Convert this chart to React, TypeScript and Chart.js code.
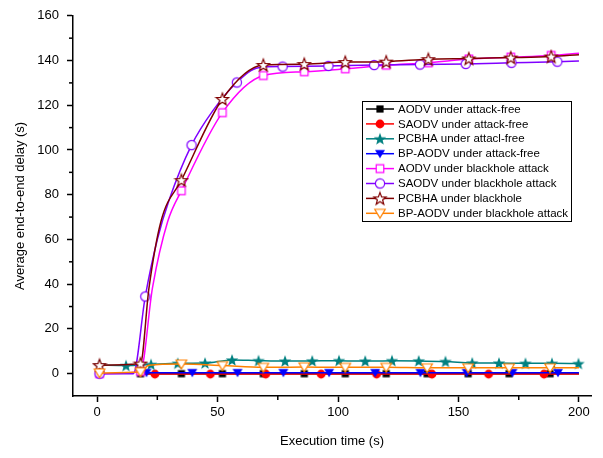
import React, { useEffect, useRef } from 'react';
import { Chart, registerables } from 'chart.js';
Chart.register(...registerables);

const FONT = '"Liberation Sans", Arial, Helvetica, sans-serif';

const seriesLabels = [
  'AODV under attack-free',
  'SAODV under attack-free',
  'PCBHA under attacl-free',
  'BP-AODV under attack-free',
  'AODV under blackhole attack',
  'SAODV under blackhole attack',
  'PCBHA under blackhole',
  'BP-AODV under blackhole attack',
];

// AODV under attack-free (black squares)
const aodvFreeX = [18, 35, 52, 69, 86, 103, 120, 137, 154, 171, 188, 200];
const aodvFreeY = [0, 0, 0, 0, 0, 0, 0, 0, 0, 0, 0, 0];
const aodvFreeM = [1, 1, 1, 1, 1, 1, 1, 1, 1, 1, 1, 0];

// SAODV under attack-free (red circles)
const saodvFreeX = [18, 24, 47, 70, 93, 116, 139, 162.5, 185.5, 200];
const saodvFreeY = [-0.2, -0.2, -0.2, -0.2, -0.2, -0.2, -0.2, -0.2, -0.2, -0.2];
const saodvFreeM = [0, 1, 1, 1, 1, 1, 1, 1, 1, 0];

// PCBHA under attack-free (teal stars)
const pcbhaFreeX = [1, 12, 22.4, 33.5, 44.8, 56, 67, 78, 89.3, 100.4, 111.3, 122.4, 133.5, 144.6, 155.7, 166.8, 177.8, 188.8, 199.8];
const pcbhaFreeY = [3.8, 3.6, 4.1, 4.6, 4.7, 6.1, 5.8, 5.6, 5.7, 5.8, 5.6, 5.8, 5.7, 5.4, 4.8, 4.7, 4.6, 4.6, 4.5];
const pcbhaFreeM = [1, 1, 1, 1, 1, 1, 1, 1, 1, 1, 1, 1, 1, 1, 1, 1, 1, 1, 1];

// BP-AODV under attack-free (blue down triangles)
const bpFreeX = [18, 20.5, 39.5, 58.3, 77.3, 96.3, 115.4, 134.2, 153.4, 172.4, 191.3, 200];
const bpFreeY = [0.4, 0.4, 0.4, 0.4, 0.4, 0.4, 0.4, 0.4, 0.4, 0.4, 0.4, 0.4];
const bpFreeM = [0, 1, 1, 1, 1, 1, 1, 1, 1, 1, 1, 0];

// AODV under blackhole attack (magenta open squares)
const aodvBhX = [1, 18, 23, 29.3, 35, 52, 69, 86, 103, 120, 137.5, 154.3, 171.7, 188.5, 200];
const aodvBhY = [0, 1, 38.5, 68, 81.8, 116.7, 133.3, 135, 136.3, 137.9, 139, 140.7, 141.5, 142.3, 143.3];
const aodvBhM = [1, 1, 0, 0, 1, 1, 1, 1, 1, 1, 1, 1, 1, 1, 0];

// SAODV under blackhole attack (violet open circles)
const saodvBhX = [1, 15, 20, 25, 30, 39.2, 48, 58, 67, 77, 96, 115, 134, 153, 172, 191, 200];
const saodvBhY = [0, 0, 34.5, 60, 78, 102.2, 117.5, 130.2, 136.8, 137.3, 137.6, 138, 138.2, 138.5, 139, 139.5, 139.8];
const saodvBhM = [1, 0, 1, 0, 0, 1, 0, 1, 0, 1, 1, 1, 1, 1, 1, 1, 0];

// PCBHA under blackhole (dark red open stars)
const pcbhaBhX = [1, 18, 21.5, 26.5, 35, 52, 69, 86, 103, 120, 137.5, 154.3, 171.7, 188.5, 200];
const pcbhaBhY = [3.8, 4.5, 38, 68, 86.5, 122.8, 138, 138.4, 139.3, 139.5, 140.6, 140.9, 141.3, 141.8, 142.6];
const pcbhaBhM = [1, 1, 0, 0, 1, 1, 1, 1, 1, 1, 1, 1, 1, 1, 0];

// BP-AODV under blackhole attack (orange open down triangles)
const bpBhX = [1, 18, 21.5, 35, 52, 69, 86, 103, 120, 137, 154, 171, 188, 200];
const bpBhY = [0.3, 0.8, 3.8, 4.3, 3.6, 2.8, 3.0, 2.8, 2.8, 2.6, 2.6, 2.6, 2.6, 2.6];
const bpBhM = [1, 1, 0, 1, 1, 1, 1, 1, 1, 1, 1, 1, 1, 0];

const xTicks = [0, 50, 100, 150, 200];
const xMinorTicks = [25, 75, 125, 175];
const yTicks = [0, 20, 40, 60, 80, 100, 120, 140, 160];
const yMinorTicks = [10, 30, 50, 70, 90, 110, 130, 150];

function makeMarker(kind: string, fill: string, stroke: string, lw: number, scale: number): HTMLCanvasElement {
  const S = 16;
  const c = document.createElement('canvas');
  c.width = S;
  c.height = S;
  const g = c.getContext('2d') as CanvasRenderingContext2D;
  const cx = S / 2;
  const cy = S / 2;
  g.beginPath();
  if (kind === 'square') {
    const h = 3.6 * scale;
    g.rect(cx - h, cy - h, 2 * h, 2 * h);
  } else if (kind === 'circle') {
    g.arc(cx, cy, 4.2 * scale, 0, Math.PI * 2);
  } else if (kind === 'star') {
    const ro = 6.2 * scale;
    const ri = 2.6 * scale;
    for (let k = 0; k < 10; k++) {
      const r = k % 2 === 0 ? ro : ri;
      const a = -Math.PI / 2 + (k * Math.PI) / 5;
      const px = cx + r * Math.cos(a);
      const py = cy + 0.6 + r * Math.sin(a);
      if (k === 0) g.moveTo(px, py);
      else g.lineTo(px, py);
    }
    g.closePath();
  } else if (kind === 'tri') {
    g.moveTo(cx - 5 * scale, cy - 3.8 * scale);
    g.lineTo(cx + 5 * scale, cy - 3.8 * scale);
    g.lineTo(cx, cy + 4.6 * scale);
    g.closePath();
  }
  g.fillStyle = fill;
  g.fill();
  if (lw > 0) {
    g.strokeStyle = stroke;
    g.lineWidth = lw;
    g.stroke();
  }
  return c;
}

const minorTicksPlugin = {
  id: 'minorTicks',
  afterDraw(chart: any) {
    const { x, y } = chart.scales;
    const ctx = chart.ctx;
    ctx.save();
    ctx.strokeStyle = '#000';
    ctx.lineWidth = 1.5;
    xMinorTicks.forEach((v) => {
      const px = x.getPixelForValue(v);
      ctx.beginPath();
      ctx.moveTo(px, x.top);
      ctx.lineTo(px, x.top + 4);
      ctx.stroke();
    });
    yMinorTicks.forEach((v) => {
      const py = y.getPixelForValue(v);
      ctx.beginPath();
      ctx.moveTo(y.right, py);
      ctx.lineTo(y.right - 4, py);
      ctx.stroke();
    });
    ctx.restore();
  },
};

const boxLegendPlugin = {
  id: 'boxLegend',
  afterDatasetsDraw(chart: any) {
    const ctx = chart.ctx;
    const bx = 362;
    const by = 101;
    const bw = 209;
    const bh = 120;
    ctx.save();
    ctx.fillStyle = '#fff';
    ctx.fillRect(bx, by, bw, bh);
    ctx.strokeStyle = '#000';
    ctx.lineWidth = 1;
    ctx.strokeRect(bx + 0.5, by + 0.5, bw, bh);
    ctx.font = `11.5px ${FONT}`;
    ctx.textBaseline = 'middle';
    ctx.textAlign = 'left';
    chart.data.datasets.forEach((d: any, i: number) => {
      const yy = by + 8 + i * 14.9;
      ctx.strokeStyle = d.borderColor;
      ctx.lineWidth = 1.5;
      ctx.beginPath();
      ctx.moveTo(bx + 4, yy);
      ctx.lineTo(bx + 32, yy);
      ctx.stroke();
      const img = d.pointStyle as HTMLCanvasElement;
      ctx.drawImage(img, bx + 18 - img.width / 2, yy - img.height / 2);
      ctx.fillStyle = '#000';
      ctx.fillText(d.label, bx + 36, yy + 0.5);
    });
    ctx.restore();
  },
};

export default function App() {
  const ref = useRef<HTMLCanvasElement | null>(null);

  useEffect(() => {
    if (!ref.current) return;
    const markers = [
      makeMarker('square', '#000000', '#000000', 0, 1),
      makeMarker('circle', '#FF0000', '#FF0000', 0, 1.05),
      makeMarker('star', '#008080', '#008080', 0, 1.05),
      makeMarker('tri', '#0000FF', '#0000FF', 0, 1),
      makeMarker('square', '#FFFFFF', '#FF00FF', 1.2, 1.05),
      makeMarker('circle', '#FFFFFF', '#8000FF', 1.2, 1.1),
      makeMarker('star', '#FFFFFF', '#800000', 1.2, 1.05),
      makeMarker('tri', '#FFFFFF', '#FF8000', 1.2, 1.05),
    ];
    const colors = ['#000000', '#FF0000', '#008080', '#0000FF', '#FF00FF', '#8000FF', '#800000', '#FF8000'];
    const xs = [aodvFreeX, saodvFreeX, pcbhaFreeX, bpFreeX, aodvBhX, saodvBhX, pcbhaBhX, bpBhX];
    const ys = [aodvFreeY, saodvFreeY, pcbhaFreeY, bpFreeY, aodvBhY, saodvBhY, pcbhaBhY, bpBhY];
    const ms = [aodvFreeM, saodvFreeM, pcbhaFreeM, bpFreeM, aodvBhM, saodvBhM, pcbhaBhM, bpBhM];

    const datasets = seriesLabels.map((label, i) => ({
      label,
      data: xs[i].map((x, k) => ({ x, y: ys[i][k] })),
      borderColor: colors[i],
      backgroundColor: colors[i],
      borderWidth: 1.5,
      pointStyle: markers[i],
      pointRadius: (c: any) => (ms[i][c.dataIndex] ? 5 : 0),
      pointHoverRadius: 0,
      cubicInterpolationMode: 'monotone',
      fill: false,
      order: 10 - i,
    }));

    const chart = new Chart(ref.current, {
      type: 'line',
      data: { datasets } as any,
      plugins: [minorTicksPlugin, boxLegendPlugin],
      options: {
        animation: false,
        responsive: false,
        maintainAspectRatio: false,
        events: [],
        layout: { padding: { top: 13, right: 12, left: 0, bottom: 0 } },
        plugins: {
          legend: { display: false },
          tooltip: { enabled: false },
        },
        scales: {
          x: {
            type: 'linear',
            min: -10,
            max: 205,
            afterBuildTicks: (s: any) => {
              s.ticks = xTicks.map((v) => ({ value: v }));
            },
            afterFit: (s: any) => {
              s.height = 62;
            },
            grid: {
              display: true,
              drawOnChartArea: false,
              drawTicks: true,
              tickLength: 6,
              tickColor: '#000',
              tickWidth: 1.5,
            },
            border: { display: true, color: '#000', width: 1.5 },
            ticks: {
              color: '#000',
              font: { family: FONT, size: 13 },
              padding: 3,
              maxRotation: 0,
              autoSkip: false,
            },
            title: {
              display: true,
              text: 'Execution time (s)',
              color: '#000',
              font: { family: FONT, size: 13 },
              padding: { top: 4, bottom: 9 },
            },
          },
          y: {
            type: 'linear',
            min: -10,
            max: 160,
            afterBuildTicks: (s: any) => {
              s.ticks = yTicks.map((v) => ({ value: v }));
            },
            afterFit: (s: any) => {
              s.width = 73;
            },
            grid: {
              display: true,
              drawOnChartArea: false,
              drawTicks: true,
              tickLength: 6,
              tickColor: '#000',
              tickWidth: 1.5,
            },
            border: { display: true, color: '#000', width: 1.5 },
            ticks: {
              color: '#000',
              font: { family: FONT, size: 13 },
              padding: 8,
              autoSkip: false,
            },
            title: {
              display: true,
              text: 'Average end-to-end delay (s)',
              color: '#000',
              font: { family: FONT, size: 13 },
              padding: { top: 13, bottom: 4 },
            },
          },
        },
      } as any,
    });
    return () => chart.destroy();
  }, []);

  return (
    <div style={{ position: 'fixed', left: 0, top: 0, width: 603, height: 458, background: '#fff' }}>
      <canvas ref={ref} width={603} height={458} style={{ width: 603, height: 458, display: 'block' }} />
    </div>
  );
}
